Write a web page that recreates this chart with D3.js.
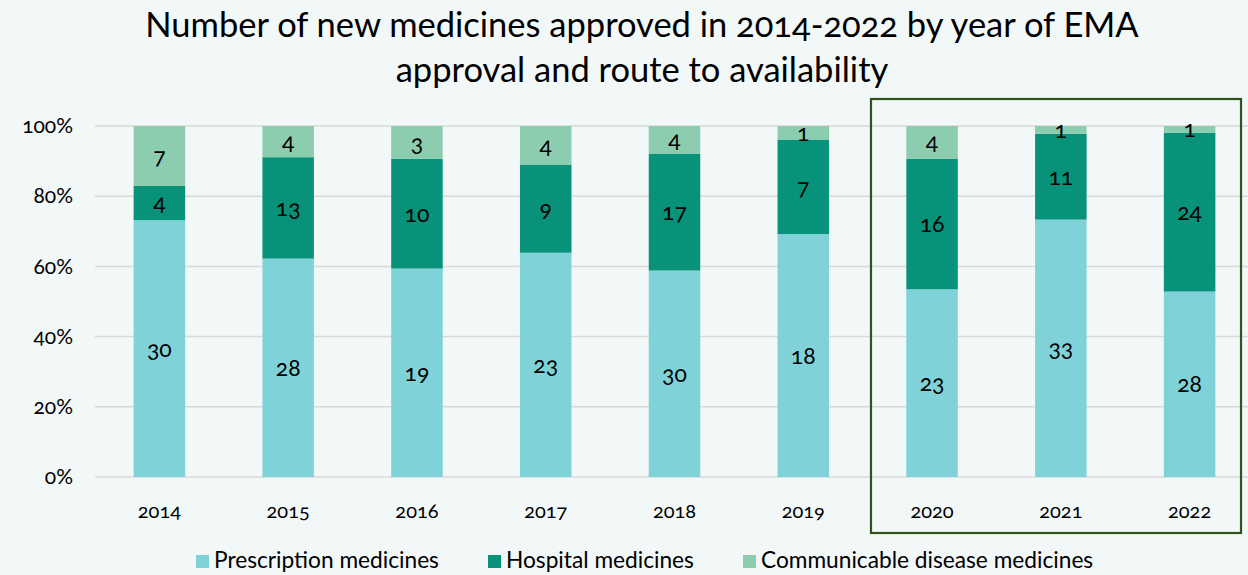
<!DOCTYPE html>
<html><head><meta charset="utf-8">
<script src="https://cdn.jsdelivr.net/npm/d3@7"></script>
<style>
html,body{margin:0;padding:0;background:#f2f7f7;}
svg{display:block;font-family:Lato,"Open Sans",sans-serif;font-variant-numeric:oldstyle-nums;}
</style></head><body>
<svg id="c" width="1248" height="575"></svg>
<script>
const years = ["2014","2015","2016","2017","2018","2019","2020","2021","2022"];
const prescription = [30,28,19,23,30,18,23,33,28];
const hospital = [4,13,10,9,17,7,16,11,24];
const communicable = [7,4,3,4,4,1,4,1,1];
const seriesNames = ["Prescription medicines","Hospital medicines","Communicable disease medicines"];
const colors = ["#7fd3d8","#089279","#8ccdb0"];
const yTicks = [0,0.2,0.4,0.6,0.8,1];
const highlighted = ["2020","2021","2022"];

const svg = d3.select("#c");
const x = d3.scaleBand().domain(years).range([95,1254]).paddingInner(0.6).paddingOuter(0.3);
const y = d3.scaleLinear().domain([0,1]).range([477,126]);

const rows = years.map((yr,i)=>({year:yr, p:prescription[i], h:hospital[i], c:communicable[i]}));
const stack = d3.stack().keys(["p","h","c"]).offset(d3.stackOffsetExpand);
const stacked = stack(rows);

// title
const title = svg.append("text").attr("text-anchor","middle").attr("fill","#000").style("font-size","34.5px");
title.append("tspan").attr("x",642).attr("y",37).text("Number of new medicines approved in 2014-2022 by year of EMA");
title.append("tspan").attr("x",642).attr("y",82).text("approval and route to availability");

// gridlines
svg.append("g").selectAll("line").data(yTicks).join("line")
  .attr("x1",95).attr("x2",1248).attr("y1",d=>y(d)).attr("y2",d=>y(d))
  .attr("stroke","#d9d9d9").attr("stroke-width",1.5);

// y axis labels
const yAxis = d3.axisLeft(y).tickValues(yTicks).tickFormat(d3.format(".0%")).tickSize(0).tickPadding(0);
const ya = svg.append("g").attr("transform","translate(73,0)").call(yAxis);
ya.select(".domain").remove();
ya.selectAll("text").style("font-size","21px").attr("fill","#000").attr("font-family","Lato");

// bars
const g = svg.append("g");
stacked.forEach((s,si)=>{
  g.append("g").selectAll("rect").data(s).join("rect")
    .attr("x",d=>x(d.data.year)).attr("width",x.bandwidth())
    .attr("y",d=>y(d[1])).attr("height",d=>y(d[0])-y(d[1]))
    .attr("fill",colors[si]);
  g.append("g").selectAll("text").data(s).join("text")
    .attr("x",d=>x(d.data.year)+x.bandwidth()/2)
    .attr("y",d=>(y(d[0])+y(d[1]))/2)
    .attr("dy","0.35em").attr("text-anchor","middle")
    .style("font-size","23px").attr("fill","#000")
    .text(d=>d.data[s.key]);
});

// x axis labels
const xAxis = d3.axisBottom(x).tickSize(0).tickPadding(0);
const xa = svg.append("g").attr("transform","translate(0,518)").call(xAxis);
xa.select(".domain").remove();
xa.selectAll("text").style("font-size","20px").attr("fill","#000").attr("font-family","Lato").attr("dy","0");

// highlight box
svg.append("rect").attr("x",871).attr("y",99).attr("width",370).attr("height",434)
  .attr("fill","none").attr("stroke","#2f5319").attr("stroke-width",2.2);

// legend
const legX = [196,488,743];
const leg = svg.append("g");
seriesNames.forEach((n,i)=>{
  leg.append("rect").attr("x",legX[i]).attr("y",555).attr("width",13).attr("height",13).attr("fill",colors[i]);
  leg.append("text").attr("x",legX[i]+18).attr("y",568).style("font-size","22.7px").attr("fill","#000").text(n);
});
</script>
</body></html>
